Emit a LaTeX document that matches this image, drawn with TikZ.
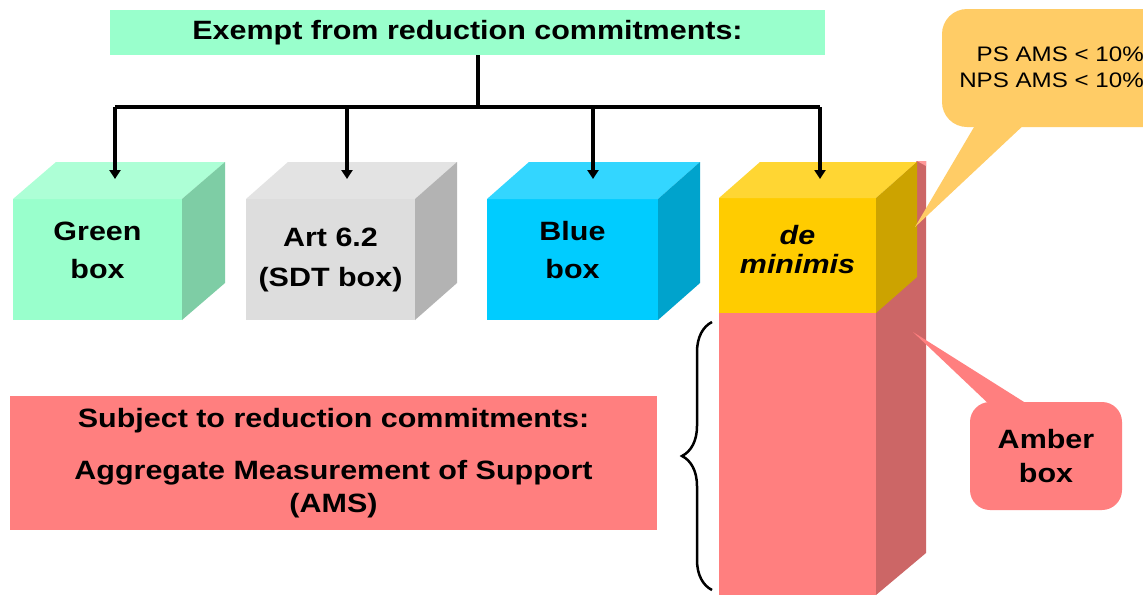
\documentclass[tikz,border=0pt]{standalone}
\usepackage{fontspec}
\setmainfont{Liberation Sans}[FakeStretch=1.15]
\usetikzlibrary{arrows.meta,decorations.pathreplacing}
\definecolor{mint}{HTML}{99FFCC}
\definecolor{minttop}{HTML}{ADFFD6}
\definecolor{mintside}{HTML}{7ECDA5}
\definecolor{greyfront}{HTML}{DDDDDD}
\definecolor{greytop}{HTML}{E3E3E3}
\definecolor{greyside}{HTML}{B3B3B3}
\definecolor{bluefront}{HTML}{00CCFF}
\definecolor{bluetop}{HTML}{33D6FF}
\definecolor{blueside}{HTML}{00A3CC}
\definecolor{yelfront}{HTML}{FFCC00}
\definecolor{yeltop}{HTML}{FFD633}
\definecolor{yelside}{HTML}{CCA300}
\definecolor{ambfront}{HTML}{FF7F7F}
\definecolor{ambtop}{HTML}{FF9999}
\definecolor{ambside}{HTML}{CC6666}
\definecolor{callorange}{HTML}{FFCC66}
\begin{document}
\begin{tikzpicture}[x=1pt,y=-1pt,
 big/.style={font=\bfseries\fontsize{26.5}{38}\selectfont},
 face/.style={inner sep=0pt,outer sep=0pt,anchor=north west},
 lbl/.style={big,align=center,inner sep=0pt},
 conn/.style={line width=4pt},
 arr/.style={line width=4pt,-{Triangle[width=11pt,length=9pt]}},
 bracestyle/.style={line width=2.5pt,decorate,decoration={brace,amplitude=30pt}},
]
\useasboundingbox[fill=white] (0,0) rectangle (1143,595);

% title
\node[face,fill=mint,minimum width=715pt,minimum height=45pt,big] (title) at (110,10) {Exempt from reduction commitments:};

% amber column (behind de minimis)
\node[face,fill=ambfront,minimum width=157pt,minimum height=395pt] (amber) at (719,200) {};
\coordinate (ambTR) at (926,161);
\coordinate (ambTM) at (917,161);
\fill[ambside] (amber.south east) -- ++(50,-42) -- (ambTR) -- (ambTM) -- (amber.north east) -- cycle;
\fill[ambtop] (ambTM) -- (ambTR) -- ++(0,5) -- cycle;

% cubes
\foreach \n/\x/\y/\w/\h/\dx/\dy/\cf/\ct/\cs in {
  green/13/199/169/121/43/37/mint/minttop/mintside,
  grey/246/199/169/121/42/37/greyfront/greytop/greyside,
  blue/487/199/171/121/42/37/bluefront/bluetop/blueside,
  dm/719/198/157/115/41/36/yelfront/yeltop/yelside}{
  \node[face,fill=\cf,minimum width=\w pt,minimum height=\h pt] (\n) at (\x,\y) {};
  \fill[\ct] (\n.north west) -- ++(\dx,-\dy) -- ([xshift=\dx pt,yshift=\dy pt]\n.north east) -- (\n.north east) -- cycle;
  \fill[\cs] (\n.north east) -- ++(\dx,-\dy) -- ([xshift=\dx pt,yshift=\dy pt]\n.south east) -- (\n.south east) -- cycle;
}
\node[lbl] (greenlbl) at ([yshift=9.5pt]green.center) {Green\\box};
\node[lbl] (greylbl) at (grey.center) {Art 6.2\\[2pt](SDT box)};
\node[lbl] (bluelbl) at ([yshift=9.5pt]blue.center) {Blue\\box};
\node[lbl,font=\bfseries\itshape\fontsize{26.5}{29}\selectfont] (dmlbl) at ([yshift=5.5pt]dm.center) {de\\minimis};

% connectors
\coordinate (hub) at (478,107);
\coordinate (tg) at (115,179);
\coordinate (ta) at (347,179);
\coordinate (tb) at (593,179);
\coordinate (td) at (820,179);
\draw[conn] (title.south -| hub) -- (hub);
\draw[conn] (tg |- hub) -- (td |- hub);
\foreach \t in {tg,ta,tb,td}{
  \draw[arr] (\t |- hub) -- (\t);
}

% subject box
\node[face,fill=ambfront,minimum width=647pt,minimum height=134pt,align=center,
      font=\bfseries\fontsize{26.5}{33}\selectfont] (subj) at (10,396)
  {Subject to reduction commitments:\\[19pt]Aggregate Measurement of Support\\(AMS)};

% brace
\coordinate (braceB) at (712,590);
\coordinate (braceT) at (712,322);
\draw[bracestyle] (braceB) -- (braceT);

% PS callout
\node[face,fill=callorange,rounded corners=25pt,minimum width=240pt,minimum height=118pt] (ps) at (942,9) {};
\coordinate (psTip) at (915,227);
\fill[callorange] ([xshift=35pt,yshift=5pt]ps.south west) -- ([xshift=85pt,yshift=5pt]ps.south west) -- (psTip) -- cycle;
\node[anchor=east,align=right,inner sep=0pt,font=\fontsize{21}{26}\selectfont] (pstext) at (1144,67.5) {PS AMS < 10\%\\NPS AMS < 10\%};

% Amber callout
\node[face,fill=ambfront,rounded corners=20pt,minimum width=152pt,minimum height=108pt,align=center,
      font=\bfseries\fontsize{26.5}{34}\selectfont] (ambc) at (970,402) {Amber\\box};
\coordinate (ambTip) at (913,332);
\fill[ambfront] ([xshift=22pt,yshift=-5pt]ambc.north west) -- ([xshift=62pt,yshift=-5pt]ambc.north west) -- (ambTip) -- cycle;
\end{tikzpicture}
\end{document}
